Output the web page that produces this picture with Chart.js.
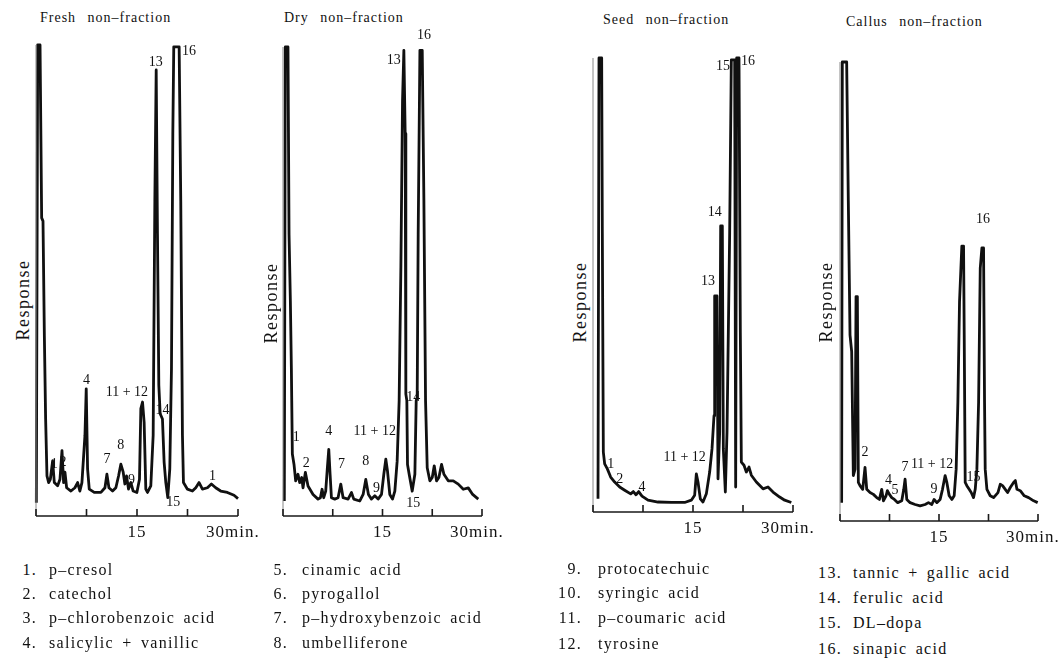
<!DOCTYPE html>
<html>
<head>
<meta charset="utf-8">
<title>HPLC chromatograms – non-fraction extracts</title>
<script src="https://cdn.jsdelivr.net/npm/chart.js@4.4.1/dist/chart.umd.min.js"></script>
<style>
  html, body { margin: 0; padding: 0; background: #fff; }
  #page { position: relative; width: 1063px; height: 658px; overflow: hidden;
          font-family: "Liberation Serif", "DejaVu Serif", serif; color: #111; }
  #page canvas { position: absolute; top: 0; }
  .title { position: absolute; font-size: 14px; line-height: 16px; letter-spacing: 1px; word-spacing: 7px; white-space: nowrap; }
  .ylab { position: absolute; font-size: 18px; line-height: 20px; letter-spacing: 1.5px; white-space: nowrap;
          transform: translate(-50%, -50%) rotate(-90deg); }
  .leg { position: absolute; font-size: 16px; line-height: 20px; letter-spacing: 1.3px; word-spacing: 3px; white-space: nowrap; }
  .leg.num { text-align: right; width: 40px; }
</style>
</head>
<body>
<div id="page"></div>
<script>
// time axis (minutes) and tick labels
const tickMinutes = [0, 7.5, 15, 22.5, 30];
const tickText = ['', '', '15', '', '30min.'];

// Fresh non-fraction
const freshMin = [0.05,0.25,0.6,0.84,1.04,1.24,1.43,1.63,1.88,2.13,
  2.47,2.72,3.21,3.56,3.86,4.10,4.30,4.55,5.19,5.78,
  6.18,6.52,6.82,7.27,7.46,7.66,7.91,8.65,9.64,10.24,
  10.53,10.83,11.37,11.86,12.26,12.60,12.95,13.20,13.45,13.74,
  14.09,14.43,14.98,15.37,15.57,15.82,16.06,16.31,16.56,17.05,
  17.40,17.65,17.85,18.04,18.24,18.44,18.78,19.03,19.28,19.57,
  19.87,20.12,20.32,20.46,21.26,21.50,21.75,21.90,22.49,23.23,
  23.73,24.22,24.72,25.46,26.05,26.69,27.43,28.42,29.41,30.0];
const freshResp = [2.8,100,100,63.3,62.6,38.4,20.6,8.5,7.1,7.8,
  11.7,7.1,6.4,7.8,13.9,7.1,9.3,6.0,5.3,6.0,
  7.1,5.3,7.1,17.1,27.0,10.0,5.7,5.0,5.0,6.0,
  8.9,6.0,5.3,6.0,8.5,11.0,9.3,6.8,8.5,5.7,
  7.1,5.3,5.0,7.8,22.8,24.2,19.9,5.7,5.0,6.4,
  17.1,66.9,94.7,59.8,27.8,21.7,20.6,11.4,7.1,3.9,
  10.0,31.3,81.1,99.6,99.6,66.9,17.1,7.1,5.7,5.3,
  6.0,7.1,5.7,6.0,6.8,6.0,5.3,5.0,4.4,3.7];
const freshPeakText = ['1','2','4','7','8','9','11 + 12','13','14','15','16','1'];
const freshPeakMin  = [2.72,4.0,7.51,10.53,12.6,14.19,13.5,17.8,18.78,20.37,22.74,26.2];
const freshPeakResp = [11.0,11.4,28.8,12.1,14.9,7.5,26.3,96.4,22.4,3.0,98.6,8.5];

// Dry non-fraction
const dryMin = [0.2,0.35,0.75,0.91,1.11,1.26,1.41,1.66,1.91,2.26,
  2.52,2.82,3.02,3.37,3.77,4.53,5.28,5.64,5.89,6.14,
  6.44,6.69,6.9,7.1,7.3,7.8,8.3,8.71,9.06,9.81,
  10.32,10.67,11.58,12.08,12.48,12.88,13.34,13.84,14.34,14.85,
  15.2,15.5,15.75,16.1,16.51,16.86,17.21,17.51,17.77,18.02,
  18.22,18.42,18.52,18.67,18.77,19.02,19.48,19.88,20.08,20.23,
  20.38,20.64,20.99,21.24,21.49,21.74,22.14,22.5,22.8,23.15,
  23.5,23.9,24.26,24.91,25.67,26.42,27.18,27.93,28.59,29.44];
const dryResp = [3.2,100,100,60.1,45.9,31.7,13.2,11.0,7.5,8.9,
  7.1,8.2,6.0,9.3,6.4,4.6,3.6,3.9,5.7,3.9,
  5.3,10.3,14.2,8.9,3.9,3.6,3.9,6.8,3.9,3.6,
  5.0,3.6,3.2,4.6,7.8,4.6,3.6,4.3,3.6,4.6,
  8.9,12.1,9.6,4.6,3.6,5.3,11.7,24.6,53.0,88.6,
  99.3,81.5,26.0,24.6,11.0,8.9,5.3,8.9,24.6,25.3,
  60.1,99.3,99.3,67.3,24.6,10.3,7.5,8.2,10.7,7.5,
  8.2,11.0,8.9,7.5,7.5,6.8,5.7,6.0,4.6,3.6];
const dryPeakText = ['1','2','4','7','8','9','11 + 12','13','14','15','16'];
const dryPeakMin  = [2.01,3.52,6.9,8.81,12.48,14.09,13.84,16.71,19.63,19.63,21.24];
const dryPeakResp = [16.7,11.2,18.1,11.0,11.7,6.0,18.1,97.2,25.3,2.8,102.5];

// Seed non-fraction
const seedMin = [0.75,0.9,1.3,1.4,1.55,1.75,2.15,2.65,3.25,4.0,
  4.75,5.65,6.05,6.45,6.85,7.35,8.25,9.75,11.75,13.75,
  14.75,15.25,15.5,15.75,16.1,16.5,17.0,17.5,17.85,18.15,
  18.25,18.6,18.75,19.0,19.15,19.4,19.55,19.85,20.1,20.5,
  20.75,21.25,21.4,21.55,21.9,22.1,22.25,22.65,23.0,23.4,
  23.75,24.5,25.5,26.25,27.0,28.0,28.75,29.75];
const seedResp = [2.9,100,100,61.5,13.2,10.6,9.5,7.7,6.6,5.5,
  4.8,4.0,4.5,3.8,4.5,3.5,2.6,2.2,2.1,2.1,
  2.6,3.7,8.4,6.6,2.9,2.2,4.0,8.8,13.9,21.2,
  47.6,47.6,7.3,17.6,63.0,63.0,13.9,4.4,17.6,61.5,
  99.6,99.6,5.5,100,100,39.6,11.0,10.3,8.8,9.9,
  8.1,6.6,5.1,5.5,4.4,3.3,2.6,2.1];
const seedPeakText = ['1','2','4','11 + 12','13','14','15','16'];
const seedPeakMin  = [2.65,4.0,7.35,13.75,17.25,18.25,19.5,23.25];
const seedPeakResp = [10.6,7.3,5.5,12.1,50.9,65.9,98.2,99.3];

// Callus non-fraction
const callusMin = [0.25,0.35,1.01,1.26,1.52,1.77,2.02,2.28,2.43,2.63,
  2.78,3.03,3.44,3.79,4.05,4.55,5.06,5.56,5.97,6.32,
  6.58,6.98,7.18,7.49,7.84,8.24,8.75,9.36,9.66,9.86,
  10.12,10.62,11.38,12.14,12.9,13.4,13.91,14.26,14.67,15.17,
  15.53,15.93,16.19,16.54,16.95,17.3,17.6,17.86,18.11,18.46,
  18.72,18.82,18.97,19.22,19.57,19.88,20.23,20.49,20.74,21.0,
  21.25,21.5,21.75,21.9,22.0,22.26,22.76,23.27,23.93,24.28,
  24.63,25.04,25.39,25.8,26.3,26.56,26.81,27.31,27.92,28.58,
  29.34,29.95];
const callusResp = [4.0,100,100,69.7,40.5,36.9,9.9,11.3,48.9,48.9,
  8.4,7.7,6.9,11.7,6.9,6.2,5.8,5.1,4.7,6.9,
  4.4,5.5,6.6,5.8,5.1,4.7,4.0,4.4,6.9,9.1,
  4.7,4.0,3.6,3.3,3.6,4.0,3.6,4.7,4.0,4.7,
  6.9,9.9,8.4,5.5,4.7,5.5,11.3,25.9,47.8,59.9,
  59.9,40.5,8.4,7.7,6.9,6.2,5.1,6.9,11.3,25.9,
  55.1,59.5,59.5,25.9,11.3,6.9,5.5,5.1,6.2,8.0,
  7.7,6.9,6.2,7.3,8.4,8.8,6.9,6.6,5.5,5.1,
  4.4,4.0];
const callusPeakText = ['2','4','5','7','11 + 12','9','15','16'];
const callusPeakMin  = [3.79,7.33,8.35,9.86,13.95,14.26,20.23,21.65];
const callusPeakResp = [15.0,8.8,6.6,11.7,12.3,6.9,9.5,65.7];

// legend
const compoundNames = ['p–cresol', 'catechol', 'p–chlorobenzoic acid', 'salicylic + vanillic',
  'cinamic acid', 'pyrogallol', 'p–hydroxybenzoic acid', 'umbelliferone',
  'protocatechuic', 'syringic acid', 'p–coumaric acid', 'tyrosine',
  'tannic + gallic acid', 'ferulic acid', 'DL–dopa', 'sinapic acid'];

const panels = [
  { title: 'Fresh non–fraction', titleX: 40, titleY: 18, ylabX: 23, ylabY: 300,
    x0: 36, x30: 238, base: 516, top: 45,
    min: freshMin, resp: freshResp, pk: [freshPeakMin, freshPeakResp, freshPeakText] },
  { title: 'Dry non–fraction', titleX: 284, titleY: 18, ylabX: 271, ylabY: 303,
    x0: 283, x30: 482, base: 516, top: 47,
    min: dryMin, resp: dryResp, pk: [dryPeakMin, dryPeakResp, dryPeakText] },
  { title: 'Seed non–fraction', titleX: 603, titleY: 20, ylabX: 580, ylabY: 302,
    x0: 593, x30: 793, base: 512, top: 58,
    min: seedMin, resp: seedResp, pk: [seedPeakMin, seedPeakResp, seedPeakText] },
  { title: 'Callus non–fraction', titleX: 846, titleY: 22, ylabX: 826, ylabY: 302,
    x0: 840, x30: 1038, base: 521, top: 62,
    min: callusMin, resp: callusResp, pk: [callusPeakMin, callusPeakResp, callusPeakText] }
];

const legendCols = [
  { numRight: 37, textLeft: 49, rows: [570, 594, 618, 643] },
  { numRight: 288, textLeft: 302, rows: [570, 594, 618, 643] },
  { numRight: 582, textLeft: 598, rows: [569, 593, 618, 644] },
  { numRight: 842, textLeft: 853, rows: [573, 598, 623, 649] }
];

const page = document.getElementById('page');

function addDiv(cls, text, css) {
  const d = document.createElement('div');
  d.className = cls;
  d.textContent = text;
  Object.assign(d.style, css);
  page.appendChild(d);
  return d;
}

// axis line, inward ticks, tick labels and peak numbers
function chromPlugin(pk) {
  return {
    id: 'chrom',
    afterDatasetsDraw(chart) {
      const { ctx, scales: { x, y } } = chart;
      const base = y.getPixelForValue(0);
      const left = x.getPixelForValue(0);
      ctx.save();
      ctx.strokeStyle = '#888';
      ctx.lineWidth = 1;
      ctx.beginPath();
      ctx.moveTo(left, base);
      ctx.lineTo(left, y.getPixelForValue(100));
      ctx.stroke();

      ctx.strokeStyle = '#1a1a1a';
      ctx.lineWidth = 1.6;
      ctx.beginPath();
      ctx.moveTo(left, base);
      ctx.lineTo(x.getPixelForValue(30), base);
      tickMinutes.forEach(t => {
        const px = x.getPixelForValue(t);
        ctx.moveTo(px, base);
        ctx.lineTo(px, base - 7);
      });
      ctx.stroke();

      ctx.fillStyle = '#111';
      ctx.font = '17px "Liberation Serif", serif';
      ctx.letterSpacing = '1px';
      ctx.textBaseline = 'alphabetic';
      tickMinutes.forEach((t, i) => {
        if (!tickText[i]) return;
        const px = x.getPixelForValue(t);
        if (t === 30) {
          ctx.textAlign = 'left';
          ctx.fillText(tickText[i], px - 32, base + 21);
        } else {
          ctx.textAlign = 'center';
          ctx.fillText(tickText[i], px, base + 21);
        }
      });

      ctx.font = '14px "Liberation Serif", serif';
      ctx.letterSpacing = '0px';
      ctx.textAlign = 'center';
      ctx.textBaseline = 'middle';
      pk[2].forEach((txt, i) => {
        ctx.fillText(txt, x.getPixelForValue(pk[0][i]), y.getPixelForValue(pk[1][i]));
      });
      ctx.restore();
    }
  };
}

panels.forEach(p => {
  addDiv('title', p.title, { left: p.titleX + 'px', top: (p.titleY - 8) + 'px' });
  addDiv('ylab', 'Response', { left: p.ylabX + 'px', top: p.ylabY + 'px' });

  const padL = 14, padR = 34, H = 560;
  const cv = document.createElement('canvas');
  cv.width = (p.x30 - p.x0) + padL + padR;
  cv.height = H;
  cv.style.left = (p.x0 - padL) + 'px';
  page.appendChild(cv);

  new Chart(cv, {
    type: 'line',
    data: {
      datasets: [{
        data: p.min.map((t, k) => ({ x: t, y: p.resp[k] })),
        borderColor: '#101010',
        borderWidth: 2.8,
        borderJoinStyle: 'round',
        pointRadius: 0,
        tension: 0,
        fill: false,
        clip: false
      }]
    },
    options: {
      responsive: false,
      animation: false,
      events: [],
      layout: { padding: { left: padL, right: padR, top: p.top, bottom: H - p.base } },
      scales: {
        x: { type: 'linear', min: 0, max: 30, display: false },
        y: { min: 0, max: 100, display: false }
      },
      plugins: { legend: { display: false }, tooltip: { enabled: false } }
    },
    plugins: [chromPlugin(p.pk)]
  });
});

legendCols.forEach((col, c) => {
  col.rows.forEach((cy, r) => {
    const n = c * 4 + r;
    addDiv('leg num', (n + 1) + '.', { left: (col.numRight - 40) + 'px', top: (cy - 10) + 'px' });
    addDiv('leg', compoundNames[n], { left: col.textLeft + 'px', top: (cy - 10) + 'px' });
  });
});
</script>
</body>
</html>
